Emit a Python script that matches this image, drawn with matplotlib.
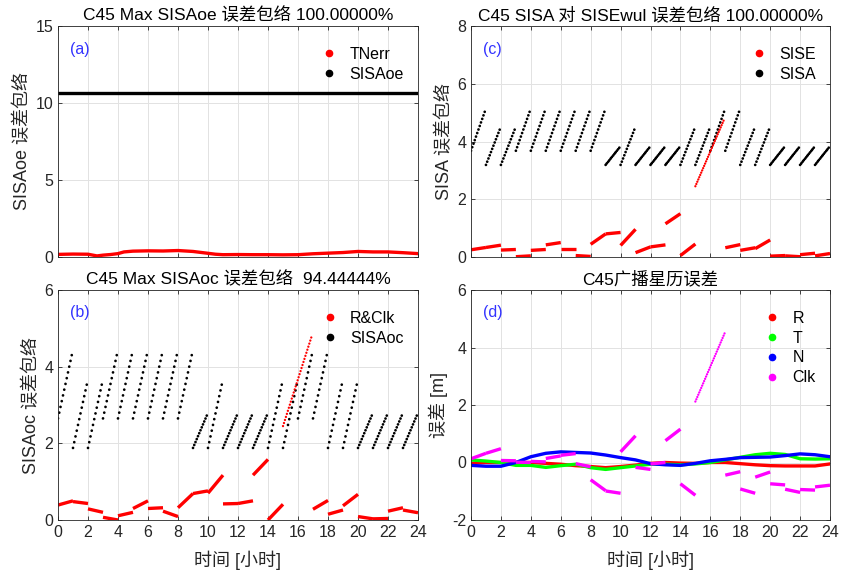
import numpy as np
import matplotlib
matplotlib.use('Agg')
import matplotlib.pyplot as plt
from matplotlib.lines import Line2D

plt.rcParams['font.family'] = ['Liberation Sans', 'Noto Sans CJK SC']
plt.rcParams['axes.unicode_minus'] = False

# ---- data -------------------------------------------------------------
seg_t0 = np.arange(24)          # each broadcast ephemeris block lasts one hour
seg_t1 = seg_t0 + 1
nan = np.nan

# (a) TNerr vs. max SISAoe
tn_t = [0, 1, 2, 2.6, 3, 3.5, 4, 4.4, 5, 6, 7, 8, 9, 10, 10.5, 11, 12, 13, 14, 15,
        16, 17, 18, 19, 20, 21, 22, 23, 24]
tn_v = [0.17, 0.19, 0.18, 0.07, 0.12, 0.16, 0.22, 0.33, 0.38, 0.40, 0.39, 0.42, 0.36,
        0.24, 0.18, 0.15, 0.16, 0.15, 0.15, 0.14, 0.15, 0.21, 0.25, 0.29, 0.36, 0.33,
        0.33, 0.28, 0.22]
sisaoe_max = 10.65

# SISA block type per hour: L / M / S
sisa_type = ['L', 'M', 'M', 'L', 'L', 'L', 'L', 'L', 'L', 'S', 'M', 'S',
             'S', 'S', 'M', 'M', 'L', 'L', 'M', 'M', 'S', 'S', 'S', 'S']
# (c) SISA ramps (start, end) per type
sisa_ramp = {'L': (3.68, 5.15), 'M': (3.19, 4.52), 'S': (3.19, 3.84)}
# (b) SISAoc ramps
sisaoc_ramp = {'L': (2.65, 4.45), 'M': (1.88, 3.68), 'S': (1.88, 2.80)}

# (c) SISE per hour
sise_start = [0.25, 0.33, 0.24, 0.01, 0.23, 0.42, 0.27, 0.05, 0.44, 0.80, 0.40, 0.15,
              0.35, 1.15, 0.05, nan, nan, 0.32, 0.23, 0.29, 0.03, 0.04, 0.08, 0.04]
sise_end = [0.33, 0.41, 0.26, 0.04, 0.26, 0.50, 0.27, 0.02, 0.80, 0.85, 0.96, 0.35,
            0.42, 1.50, 0.45, nan, nan, 0.43, 0.32, 0.59, 0.05, 0.01, 0.13, 0.12]
sise_jump_t = [15, 16.95]
sise_jump_v = [2.45, 4.80]

# (b) R&Clk per hour
rc_start = [0.39, 0.48, 0.29, 0.07, 0.11, 0.30, 0.30, 0.23, 0.32, 0.69, 0.70, 0.42,
            0.43, 1.17, 0.00, nan, nan, 0.28, 0.15, 0.37, 0.09, 0.03, 0.23, 0.26]
rc_end = [0.50, 0.43, 0.20, 0.00, 0.20, 0.50, 0.32, 0.09, 0.69, 0.76, 1.17, 0.43,
          0.50, 1.58, 0.41, nan, nan, 0.51, 0.26, 0.67, 0.03, 0.04, 0.32, 0.19]
rc_jump_t = [15, 16.95]
rc_jump_v = [2.45, 4.84]

# (d) orbit / clock errors
hours = np.arange(25)
err_r = [-0.03, 0.0, 0.0, 0.0, 0.0, -0.03, -0.06, -0.11, -0.14, -0.18, -0.14, -0.09,
         -0.03, 0.0, -0.02, -0.03, 0.0, 0.0, -0.04, -0.08, -0.11, -0.12, -0.12, -0.12, -0.05]
err_t = [0.09, 0.05, 0.0, -0.10, -0.10, -0.17, -0.11, -0.06, -0.18, -0.24, -0.18, -0.12,
         -0.06, -0.06, -0.08, -0.05, 0.0, 0.09, 0.18, 0.27, 0.32, 0.28, 0.13, 0.12, 0.13]
err_n = [-0.10, -0.13, -0.13, 0.0, 0.20, 0.32, 0.37, 0.35, 0.33, 0.26, 0.17, 0.09,
         -0.04, -0.08, -0.10, -0.03, 0.06, 0.11, 0.17, 0.18, 0.19, 0.24, 0.30, 0.27, 0.20]
clk_start = [0.13, 0.32, 0.07, 0.01, 0.04, 0.14, 0.25, -0.04, -0.60, -0.99, 0.37, -0.17,
             -0.05, 0.76, -0.74, nan, nan, -0.44, -0.92, -0.51, -0.74, -0.93, -0.94, -0.85]
clk_end = [0.32, 0.48, 0.06, 0.00, 0.02, 0.23, 0.31, -0.15, -0.98, -1.07, 0.93, -0.24,
           0.00, 1.16, -1.14, nan, nan, -0.32, -1.07, -0.33, -0.78, -1.04, -0.96, -0.79]
clk_jump_t = [15, 16.95]
clk_jump_v = [2.12, 4.49]

# ---- helpers ------------------------------------------------------------
GRAY = '#262626'
fig = plt.figure(figsize=(8.42, 5.76), dpi=100)


def style_axes(ax, ylim, yticks, xlabels):
    ax.set_xlim(0, 24)
    ax.set_ylim(*ylim)
    ax.set_xticks(range(0, 25, 2))
    ax.set_yticks(yticks)
    ax.grid(True, color='#e2e2e2', lw=0.7)
    ax.set_axisbelow(True)
    ax.tick_params(direction='in', top=True, right=True, length=3, width=0.6,
                   colors=GRAY, labelsize=11.5, labelbottom=xlabels)
    for s in ax.spines.values():
        s.set_color(GRAY)
        s.set_linewidth(0.6)


def dotted(ax, t, v, color, ndots, lw=2.0):
    # dotted line with a fixed number of dots along the segment
    p = ax.transData.transform(np.column_stack([t, v]))
    length = np.hypot(*(p[-1] - p[0])) * 72 / fig.dpi
    gap = length / (ndots - 1) / lw
    ax.plot(t, v, color=color, lw=lw, ls=(0, (0.01, gap - 0.01)),
            dash_capstyle='round')


def solid_blocks(ax, v0, v1, color, lw=2.4):
    for t0, t1, a, b in zip(seg_t0, seg_t1, v0, v1):
        if np.isnan(a):
            continue
        ax.plot([t0, t1], [a, b], color=color, lw=lw, solid_capstyle='butt')


def sisa_blocks(ax, ramps):
    for t0, t1, k in zip(seg_t0, seg_t1, sisa_type):
        dotted(ax, [t0, t1], list(ramps[k]), 'black', 13)


def legend(ax, labels, colors):
    handles = [Line2D([], [], ls='none', marker='o', ms=4.5, color=c) for c in colors]
    ax.legend(handles, labels, loc='upper right', bbox_to_anchor=(1.018, 1),
              frameon=False, fontsize=11.5, handlelength=1.0, handletextpad=0.75,
              labelspacing=0.3, borderaxespad=0.9)


def panel_tag(ax, tag):
    ax.text(0.033, 0.9, tag, transform=ax.transAxes, color='#3333ff',
            fontsize=11.5, va='center')


W, H = 842, 576
axa = fig.add_axes([58 / W, 1 - 257 / H, 360 / W, 231 / H])
axc = fig.add_axes([471 / W, 1 - 257 / H, 359 / W, 231 / H])
axb = fig.add_axes([58 / W, 1 - 520 / H, 360 / W, 230 / H])
axd = fig.add_axes([471 / W, 1 - 520 / H, 359 / W, 230 / H])

style_axes(axa, (0, 15), [0, 5, 10, 15], False)
style_axes(axc, (0, 8), [0, 2, 4, 6, 8], False)
style_axes(axb, (0, 6), [0, 2, 4, 6], True)
style_axes(axd, (-2, 6), [-2, 0, 2, 4, 6], True)

TITLE = dict(fontsize=12.5, pad=4)
YLAB = dict(fontsize=13, color=GRAY, labelpad=3)
XLAB = dict(fontsize=13, color=GRAY, labelpad=8)

# (a)
axa.plot(tn_t, tn_v, color='red', lw=2.4)
axa.axhline(sisaoe_max, color='black', lw=2.4)
axa.set_title('C45 Max SISAoe 误差包络 100.00000%', **TITLE)
axa.set_ylabel('SISAoe 误差包络', **YLAB)
legend(axa, ['TNerr', 'SISAoe'], ['red', 'black'])
panel_tag(axa, '(a)')

# (c)
sisa_blocks(axc, sisa_ramp)
solid_blocks(axc, sise_start, sise_end, 'red')
dotted(axc, sise_jump_t, sise_jump_v, 'red', 31, lw=1.7)
axc.set_title('C45 SISA 对 SISEwul 误差包络 100.00000%', **TITLE)
axc.set_ylabel('SISA 误差包络', **YLAB)
legend(axc, ['SISE', 'SISA'], ['red', 'black'])
panel_tag(axc, '(c)')

# (b)
sisa_blocks(axb, sisaoc_ramp)
solid_blocks(axb, rc_start, rc_end, 'red')
dotted(axb, rc_jump_t, rc_jump_v, 'red', 31, lw=1.7)
axb.set_title('C45 Max SISAoc 误差包络  94.44444%', **TITLE)
axb.set_ylabel('SISAoc 误差包络', **YLAB)
axb.set_xlabel('时间 [小时]', **XLAB)
legend(axb, ['R&Clk', 'SISAoc'], ['red', 'black'])
panel_tag(axb, '(b)')

# (d)
axd.plot(hours, err_r, color='red', lw=2.4)
axd.plot(hours, err_t, color='#00ff00', lw=2.4)
axd.plot(hours, err_n, color='blue', lw=2.4)
solid_blocks(axd, clk_start, clk_end, 'magenta')
dotted(axd, clk_jump_t, clk_jump_v, 'magenta', 31, lw=1.7)
axd.set_title('C45广播星历误差', **TITLE)
axd.set_ylabel('误差 [m]', **YLAB)
axd.set_xlabel('时间 [小时]', **XLAB)
legend(axd, ['R', 'T', 'N', 'Clk'], ['red', '#00ff00', 'blue', 'magenta'])
panel_tag(axd, '(d)')

fig.savefig('out.png', dpi=100)
